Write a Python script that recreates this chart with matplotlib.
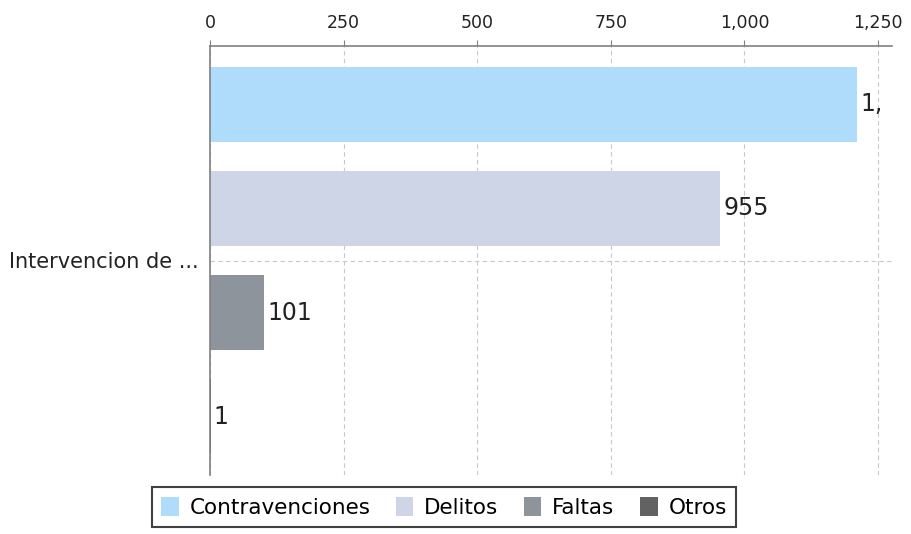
import matplotlib.pyplot as plt
import matplotlib.transforms as mtransforms
import numpy as np

category = "Intervencion de ..."
series = ["Contravenciones", "Delitos", "Faltas", "Otros"]
values = [1211, 955, 101, 1]
colors = ["#aedcfa", "#cdd5e6", "#8e949c", "#626262"]
xticks = [0, 250, 500, 750, 1000, 1250]
xtick_labels = ["0", "250", "500", "750", "1,000", "1,250"]

plt.rcParams["font.family"] = ["DejaVu Sans"]

fig = plt.figure(figsize=(9.12, 5.34), dpi=100)
ax = fig.add_axes([210 / 912, 1 - 475 / 534, (892 - 210) / 912, (475 - 46) / 534])

# value labels get clipped a little before the right edge, like the original
clip = mtransforms.TransformedBbox(mtransforms.Bbox([[0, -2.06], [1253, 2.06]]), ax.transData)
offsets = np.arange(len(series)) - (len(series) - 1) / 2
for off, val, col, name in zip(offsets, values, colors, series):
    ax.barh(off, val, height=0.72, color=col, label=name, zorder=2)
    t = ax.text(val + 6, off, f"{val:,}", va="center", ha="left", fontsize=17,
                color="#222222", zorder=3)
    t.set_clip_box(clip)
    t.set_clip_on(True)

ax.set_xlim(0, 1276)
ax.set_ylim(2.06, -2.06)
ax.set_yticks([0])
ax.set_yticklabels([category], fontsize=15, color="#222222")
ax.set_xticks(xticks)
ax.set_xticklabels(xtick_labels, fontsize=12.5, color="#222222")
ax.xaxis.tick_top()
ax.tick_params(axis="x", length=4, color="#808080", pad=6)
ax.tick_params(axis="y", length=0, pad=8)

ax.grid(True, axis="both", linestyle=(0, (4, 3)), color="#c8c8c8", linewidth=0.8, zorder=0)
for side in ["right", "bottom"]:
    ax.spines[side].set_visible(False)
for side in ["top", "left"]:
    ax.spines[side].set_color("#808080")
    ax.spines[side].set_linewidth(1.2)

leg = ax.legend(loc="upper center", bbox_to_anchor=(444 / 912, 1 - 487 / 534), bbox_transform=fig.transFigure,
                ncol=4, frameon=True, fancybox=False, fontsize=15.5, handlelength=0.8, handleheight=1.0,
                handletextpad=0.5, columnspacing=1.2, borderpad=0.45, borderaxespad=0)
leg.get_frame().set_edgecolor("#111111")
leg.get_frame().set_linewidth(1.5)

fig.savefig("out.png", dpi=100)
